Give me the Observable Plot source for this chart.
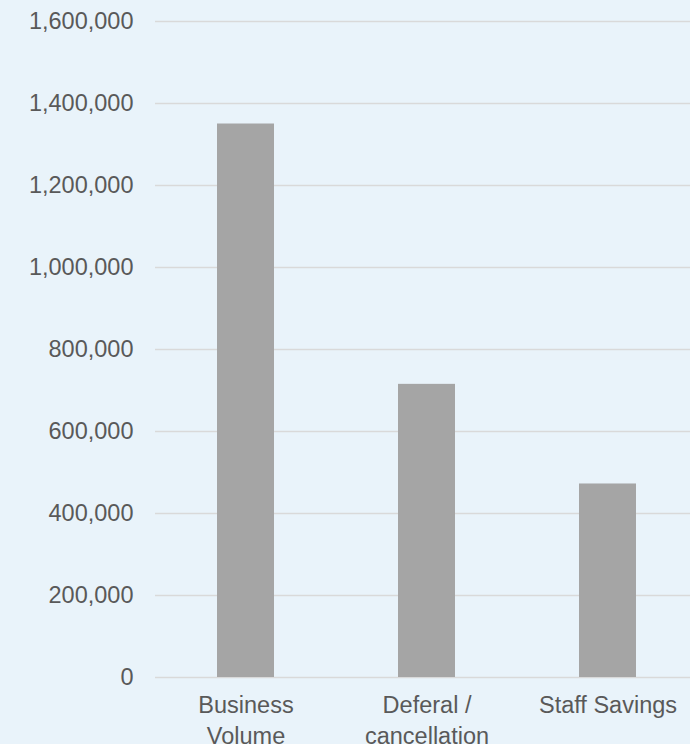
<!DOCTYPE html>
<html>
<head>
<meta charset="utf-8">
<script src="https://cdn.jsdelivr.net/npm/d3@7"></script>
<script src="https://cdn.jsdelivr.net/npm/@observablehq/plot@0.6"></script>
<style>
  html, body { margin: 0; padding: 0; background: #e9f3fa; overflow: hidden; }
  #chart svg { display: block; background: #e9f3fa; }
</style>
</head>
<body>
<div id="chart"></div>
<script>
const categories = ["Business\nVolume", "Deferal /\ncancellation", "Staff Savings"];
const values = [1350000, 715000, 472000];
const yTicks = [0, 200000, 400000, 600000, 800000, 1000000, 1200000, 1400000, 1600000];

const data = categories.map((c, i) => ({category: c, value: values[i]}));

const chart = Plot.plot({
  width: 690,
  height: 744,
  marginLeft: 155,
  marginRight: 0,
  marginTop: 21,
  marginBottom: 67,
  style: {background: "#e9f3fa", fontFamily: "'Liberation Sans', Arial, sans-serif", fontSize: "23.5px", color: "#595959"},
  x: {domain: categories, range: [155, 698], paddingInner: 0.685, paddingOuter: 0.3425, label: null},
  y: {domain: [0, 1600000], label: null},
  marks: [
    Plot.gridY(yTicks, {stroke: "#d9d9d9", strokeOpacity: 1, strokeWidth: 1.5}),
    Plot.barY(data, {x: "category", y: "value", fill: "#a5a5a5"}),
    Plot.axisY(yTicks, {tickSize: 0, tickPadding: 22, tickFormat: d3.format(","), fill: "#595959", fontSize: 23.5, label: null}),
    Plot.axisX({tickSize: 0, tickPadding: 14, lineHeight: 1.3, fill: "#595959", fontSize: 23.5, label: null})
  ]
});
document.getElementById("chart").appendChild(chart);
</script>
</body>
</html>
